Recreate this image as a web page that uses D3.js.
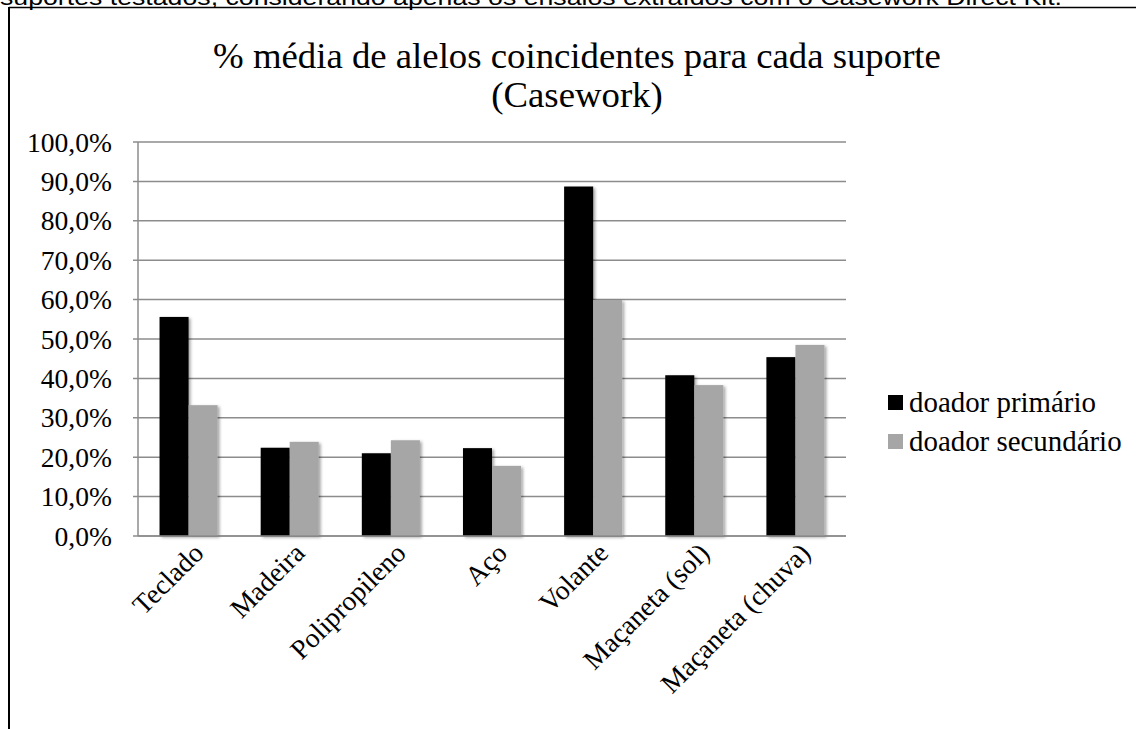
<!DOCTYPE html>
<html>
<head>
<meta charset="utf-8">
<script src="https://cdn.jsdelivr.net/npm/d3@7"></script>
<style>
  html, body { margin: 0; padding: 0; background: #fff; }
  svg { display: block; }
</style>
</head>
<body>
<svg id="chart" width="1136" height="729"></svg>
<script>
// Supports tested and the mean % of coinciding alleles per donor
const categories = ["Teclado", "Madeira", "Polipropileno", "Aço", "Volante", "Maçaneta (sol)", "Maçaneta (chuva)"];
const primario   = [55.6, 22.4, 21.0, 22.3, 88.7, 40.8, 45.4];
const secundario = [33.2, 23.9, 24.3, 17.8, 59.9, 38.3, 48.5];
const seriesNames = ["doador primário", "doador secundário"];
const seriesColors = ["#000000", "#a6a6a6"];
const yTicks = [0, 10, 20, 30, 40, 50, 60, 70, 80, 90, 100];

const titleLines = ["% média de alelos coincidentes para cada suporte", "(Casework)"];
const captionText = "suportes testados, considerando apenas os ensaios extraídos com o Casework Direct Kit.";

const serif = "'Liberation Serif', 'Times New Roman', serif";
const svg = d3.select("#chart");

// Shrinks or grows a text element's font size until it spans the given width
function fitWidth(sel, width) {
  const node = sel.node();
  const fs = parseFloat(sel.attr("font-size"));
  const w = node.getComputedTextLength();
  sel.attr("font-size", (fs * width / w).toFixed(2));
}

// Paragraph line above the figure, clipped by the page top
svg.append("text")
  .attr("x", 0).attr("y", 5)
  .attr("font-family", "'Liberation Sans', Arial, sans-serif")
  .attr("font-size", 22)
  .attr("textLength", 1062)
  .attr("lengthAdjust", "spacingAndGlyphs")
  .attr("fill", "#000")
  .text(captionText);

// Figure frame (top and left edges)
svg.append("line").attr("x1", 9).attr("x2", 1136).attr("y1", 7.5).attr("y2", 7.5)
  .attr("stroke", "#000").attr("stroke-width", 1.6);
svg.append("line").attr("x1", 9).attr("x2", 9).attr("y1", 7).attr("y2", 729)
  .attr("stroke", "#000").attr("stroke-width", 2);

// Title
const t1 = svg.append("text")
  .attr("x", 577).attr("y", 68)
  .attr("text-anchor", "middle")
  .attr("font-family", serif).attr("font-size", 30)
  .text(titleLines[0]);
fitWidth(t1, 728);
svg.append("text")
  .attr("x", 577).attr("y", 107)
  .attr("text-anchor", "middle")
  .attr("font-family", serif).attr("font-size", t1.attr("font-size"))
  .text(titleLines[1]);

// Plot area
const plot = { left: 138, right: 846, top: 142, bottom: 536 };

const x = d3.scaleBand()
  .domain(categories)
  .range([plot.left, plot.right])
  .paddingInner(0.426)
  .paddingOuter(0.213);

const y = d3.scaleLinear().domain([0, 100]).range([plot.bottom, plot.top]);

const xSub = d3.scaleBand().domain(seriesNames).range([0, x.bandwidth()]);

// Soft shadow behind bars
const defs = svg.append("defs");
const f = defs.append("filter").attr("id", "barShadow")
  .attr("x", "-20%").attr("y", "-5%").attr("width", "150%").attr("height", "115%");
f.append("feDropShadow").attr("dx", 2).attr("dy", 1.5).attr("stdDeviation", 1.6)
  .attr("flood-color", "#000").attr("flood-opacity", 0.35);

// Gridlines
const grid = svg.append("g").attr("class", "grid");
grid.selectAll("line").data(yTicks).join("line")
  .attr("x1", plot.left - 5).attr("x2", plot.right)
  .attr("y1", d => y(d)).attr("y2", d => y(d))
  .attr("stroke", "#8c8c8c").attr("stroke-width", 1.5);

// Y axis line
svg.append("line")
  .attr("x1", plot.left).attr("x2", plot.left)
  .attr("y1", plot.top).attr("y2", plot.bottom)
  .attr("stroke", "#8c8c8c").attr("stroke-width", 1.5);

// Y tick labels
const fmt = v => v.toFixed(1).replace(".", ",") + "%";
const yLabels = svg.append("g").selectAll("text").data(yTicks).join("text")
  .attr("x", 112)
  .attr("y", d => y(d))
  .attr("dy", "0.35em")
  .attr("text-anchor", "end")
  .attr("font-family", serif).attr("font-size", 22)
  .text(fmt);
// scale label size from the widest label
const widest = yLabels.filter(d => d === 100);
fitWidth(widest, 85);
yLabels.attr("font-size", widest.attr("font-size"));

// Bars
const rows = categories.map((c, i) => ({ cat: c, values: [primario[i], secundario[i]] }));
const groups = svg.append("g").selectAll("g").data(rows).join("g")
  .attr("transform", d => `translate(${x(d.cat)},0)`);
groups.selectAll("rect")
  .data(d => d.values.map((v, k) => ({ v, k })))
  .join("rect")
  .attr("x", d => xSub(seriesNames[d.k]))
  .attr("y", d => y(d.v))
  .attr("width", xSub.bandwidth())
  .attr("height", d => y(0) - y(d.v))
  .attr("fill", d => seriesColors[d.k])
  .attr("filter", "url(#barShadow)");

// X axis line
svg.append("line")
  .attr("x1", plot.left).attr("x2", plot.right)
  .attr("y1", plot.bottom).attr("y2", plot.bottom)
  .attr("stroke", "#8c8c8c").attr("stroke-width", 1.5);

// Category labels rotated 45°
svg.append("g").selectAll("text").data(categories).join("text")
  .attr("transform", d => `translate(${x(d) + x.bandwidth() / 2 + 3},${plot.bottom + 5}) rotate(-45)`)
  .attr("text-anchor", "end")
  .attr("dy", "0.7em")
  .attr("font-family", serif)
  .attr("font-size", yLabels.attr("font-size"))
  .text(d => d);

// Legend
const legend = svg.append("g").selectAll("g").data(seriesNames).join("g")
  .attr("transform", (d, i) => `translate(888,${402 + i * 39})`);
legend.append("rect")
  .attr("x", 0).attr("y", -7).attr("width", 15).attr("height", 15)
  .attr("fill", (d, i) => seriesColors[i]);
const legText = legend.append("text")
  .attr("x", 21).attr("y", 0).attr("dy", "0.35em")
  .attr("font-family", serif).attr("font-size", 22)
  .text(d => d);
const first = legText.filter((d, i) => i === 0);
fitWidth(first, 187);
legText.attr("font-size", first.attr("font-size"));
</script>
</body>
</html>
